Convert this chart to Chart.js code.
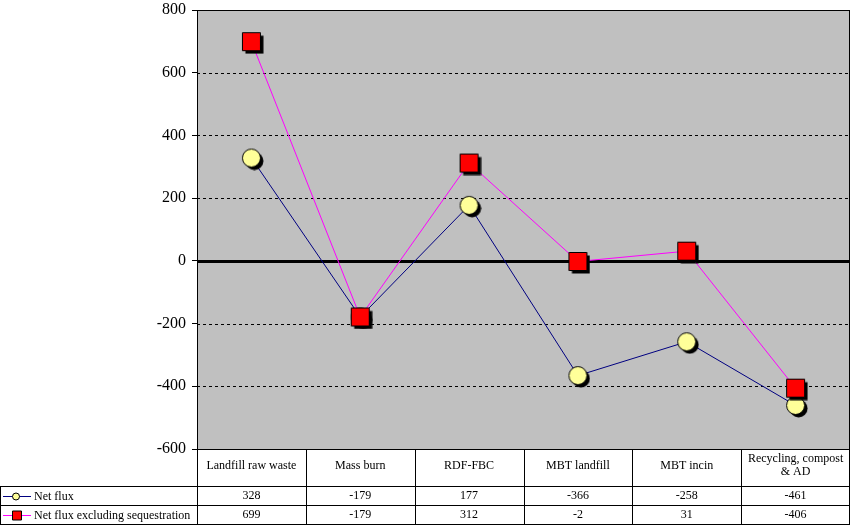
<!DOCTYPE html>
<html>
<head>
<meta charset="utf-8">
<script src="https://cdn.jsdelivr.net/npm/chart.js@4/dist/chart.umd.min.js"></script>
<style>
  html, body { margin: 0; padding: 0; background: #fff; }
</style>
</head>
<body>
<canvas id="flux-chart" width="855" height="527"></canvas>
<script>
var categories = ['Landfill raw waste', 'Mass burn', 'RDF-FBC', 'MBT landfill', 'MBT incin', ['Recycling, compost', '& AD']];
var seriesNames = ['Net flux', 'Net flux excluding sequestration'];
var netFlux = [328, -179, 177, -366, -258, -461];
var netFluxExSeq = [699, -179, 312, -2, 31, -406];
var tickValues = [-600, -400, -200, 0, 200, 400, 600, 800];

var serif = '"Liberation Serif", "Times New Roman", serif';

// marker with the hard black drop shadow excel puts under points
function markerImage(kind, fill, size, shadow) {
  var half = size / 2 + shadow;
  var c = document.createElement('canvas');
  c.width = c.height = half * 2;
  var g = c.getContext('2d');
  function shape(cx, cy) {
    g.beginPath();
    if (kind === 'circle') {
      g.arc(cx, cy, size / 2 - 0.5, 0, Math.PI * 2);
    } else {
      g.rect(cx - size / 2 + 0.5, cy - size / 2 + 0.5, size - 1, size - 1);
    }
  }
  shape(half + shadow, half + shadow);
  g.fillStyle = '#000';
  g.fill();
  shape(half, half);
  g.fillStyle = fill;
  g.fill();
  g.lineWidth = 1;
  g.strokeStyle = '#000';
  g.stroke();
  return c;
}

var circleImg = markerImage('circle', '#FFFF99', 19, 3);
var squareImg = markerImage('square', '#FF0000', 19, 3);

var plotBackground = {
  id: 'plotBackground',
  beforeDraw: function(chart) {
    var a = chart.chartArea, ctx = chart.ctx;
    ctx.save();
    ctx.fillStyle = '#C0C0C0';
    ctx.fillRect(a.left, a.top, a.right - a.left, a.bottom - a.top);
    ctx.restore();
  },
  beforeDatasetsDraw: function(chart) {
    var a = chart.chartArea, ctx = chart.ctx, ys = chart.scales.y;
    ctx.save();
    ctx.strokeStyle = '#000';
    // dashed gridlines, heavy zero line
    ys.ticks.forEach(function(t) {
      var y = Math.round(ys.getPixelForValue(t.value));
      ctx.beginPath();
      if (t.value === 0) {
        ctx.setLineDash([]);
        ctx.lineWidth = 3;
      } else {
        ctx.setLineDash([3, 3]);
        ctx.lineWidth = 1;
      }
      ctx.moveTo(a.left, y + 0.5); ctx.lineTo(a.right, y + 0.5);
      ctx.stroke();
    });
    ctx.setLineDash([]);
    ctx.lineWidth = 1;
    ctx.strokeRect(Math.round(a.left) + 0.5, Math.round(a.top) + 0.5,
      Math.round(a.right - a.left) - 1, Math.round(a.bottom - a.top));
    ctx.restore();
  }
};

var dataTable = {
  id: 'dataTable',
  afterDraw: function(chart) {
    var a = chart.chartArea, ctx = chart.ctx, xs = chart.scales.x;
    var n = categories.length;
    var colW = (a.right - a.left) / n;
    var headTop = Math.round(a.bottom);
    var row1 = headTop + 37, row2 = row1 + 19, bottom = row2 + 19;
    var right = Math.round(a.right);

    ctx.save();
    ctx.strokeStyle = '#000';
    ctx.lineWidth = 1;
    ctx.beginPath();
    [row1, row2, bottom].forEach(function(y) {
      ctx.moveTo(0, y + 0.5); ctx.lineTo(right, y + 0.5);
    });
    ctx.moveTo(0.5, row1); ctx.lineTo(0.5, bottom + 1);
    for (var i = 0; i <= n; i++) {
      var x = Math.round(a.left + i * colW) - (i === n ? 0.5 : -0.5);
      ctx.moveTo(x, headTop); ctx.lineTo(x, bottom + 1);
    }
    ctx.stroke();

    ctx.fillStyle = '#000';
    ctx.textAlign = 'center';
    ctx.textBaseline = 'middle';
    ctx.font = '12px ' + serif;
    categories.forEach(function(cat, i) {
      var cx = xs.getPixelForValue(i);
      if (Array.isArray(cat)) {
        ctx.fillText(cat[0], cx, headTop + 10);
        ctx.fillText(cat[1], cx, headTop + 23);
      } else {
        ctx.fillText(cat, cx, headTop + 17);
      }
      ctx.fillText(String(netFlux[i]), cx, row1 + 10);
      ctx.fillText(String(netFluxExSeq[i]), cx, row2 + 10);
    });

    // legend keys in the first column
    var keys = [
      { y: row1 + 10, color: '#000080', kind: 'circle', fill: '#FFFF99' },
      { y: row2 + 10, color: '#FF00FF', kind: 'square', fill: '#FF0000' }
    ];
    keys.forEach(function(k, i) {
      ctx.strokeStyle = k.color;
      ctx.beginPath();
      ctx.moveTo(3, k.y + 0.5); ctx.lineTo(31, k.y + 0.5);
      ctx.stroke();
      ctx.beginPath();
      if (k.kind === 'circle') ctx.arc(16, k.y + 0.5, 3.5, 0, Math.PI * 2);
      else ctx.rect(12.5, k.y - 4, 9, 9);
      ctx.fillStyle = k.fill;
      ctx.fill();
      ctx.strokeStyle = '#000';
      ctx.stroke();
      ctx.fillStyle = '#000';
      ctx.textAlign = 'left';
      ctx.font = '12px ' + serif;
      ctx.fillText(seriesNames[i], 34, k.y + 1);
    });
    ctx.restore();
  }
};

var ctx = document.getElementById('flux-chart');
var fluxChart = new Chart(ctx, {
  type: 'line',
  data: {
    labels: categories,
    datasets: [
      {
        label: seriesNames[0],
        data: netFlux,
        borderColor: '#000080',
        borderWidth: 1,
        pointStyle: circleImg,
        order: 1
      },
      {
        label: seriesNames[1],
        data: netFluxExSeq,
        borderColor: '#FF00FF',
        borderWidth: 1,
        pointStyle: squareImg,
        order: 0
      }
    ]
  },
  options: {
    responsive: false,
    devicePixelRatio: 1,
    animation: false,
    events: [],
    layout: { padding: { top: 10, right: 5, bottom: 78, left: 0 } },
    plugins: { legend: { display: false }, tooltip: { enabled: false } },
    scales: {
      x: { display: false, offset: true },
      y: {
        min: -600,
        max: 800,
        afterFit: function(scale) {
          scale.width = 197;
          scale.paddingTop = 0;
          scale.paddingBottom = 0;
        },
        afterBuildTicks: function(scale) {
          scale.ticks = tickValues.map(function(v) { return { value: v }; });
        },
        border: { display: true, color: '#000', width: 1 },
        grid: {
          drawOnChartArea: false,
          color: '#000',
          tickLength: 5,
          tickColor: '#000',
          tickWidth: 1
        },
        ticks: {
          color: '#000',
          padding: 6,
          font: { family: serif, size: 16 }
        }
      }
    }
  },
  plugins: [plotBackground, dataTable]
});
</script>
</body>
</html>
